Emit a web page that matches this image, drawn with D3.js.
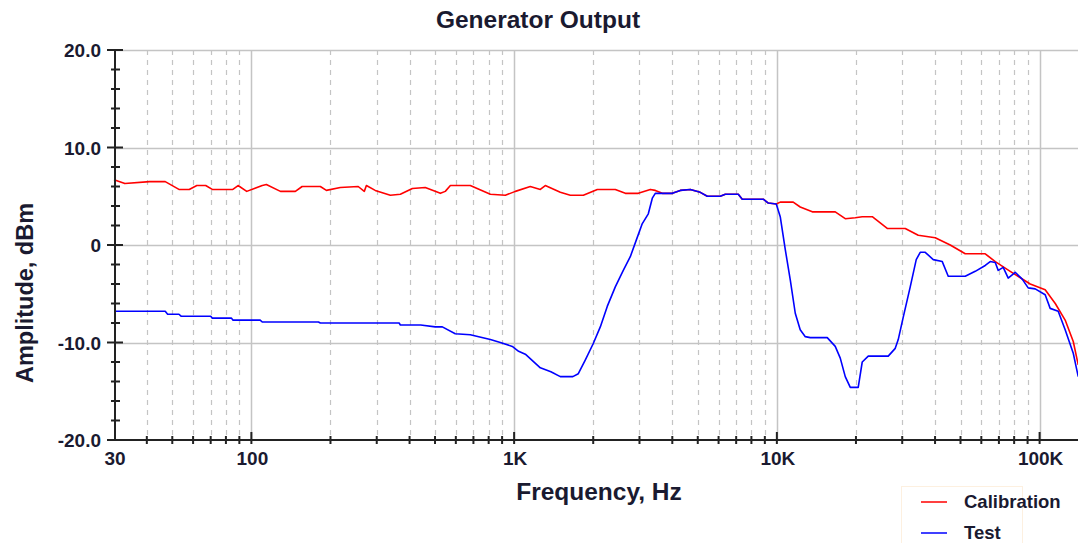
<!DOCTYPE html>
<html>
<head>
<meta charset="utf-8">
<script src="https://cdn.jsdelivr.net/npm/d3@7/dist/d3.min.js"></script>
<style>
  body { margin: 0; background: #fff; }
  svg text { font-family: "Liberation Sans", Arial, sans-serif; font-weight: bold; fill: #1a1a30; }
</style>
</head>
<body>
<div id="chart"></div>
<script>
// frequency (Hz) / amplitude (dBm)
let calFreq = [30, 33, 41, 47, 53, 58, 62, 67, 71, 85, 89, 96, 110, 114, 129, 147, 156, 183, 193, 218,
    255, 269, 274, 296, 338, 369, 410, 459, 524, 547, 572, 681, 812, 926, 1011, 1152, 1258, 1314, 1499, 1636,
    1834, 2073, 2427, 2650, 2969, 3298, 3446, 3664, 4000, 4290, 4683, 5111, 5435, 6090, 6364, 7131, 7384, 8877,
    9276, 9948, 10300, 11540, 12270, 13640, 16680, 18210, 19880, 21130, 23070, 26310, 30800, 34520, 40070,
    45690, 52120, 62090, 67800, 77290, 92090, 105000, 114700, 125100, 134300, 140300];
let calAmp = [6.7, 6.3, 6.5, 6.5, 5.7, 5.7, 6.1, 6.1, 5.7, 5.7, 6.1, 5.5, 6.1, 6.2, 5.5, 5.5, 6.0, 6.0, 5.6, 5.9,
    6.0, 5.5, 6.1, 5.6, 5.1, 5.2, 5.8, 5.9, 5.3, 5.5, 6.1, 6.1, 5.2, 5.1, 5.5, 6.0, 5.7, 6.1, 5.4, 5.1,
    5.1, 5.7, 5.7, 5.3, 5.3, 5.7, 5.6, 5.3, 5.3, 5.6, 5.7, 5.4, 5.0, 5.0, 5.2, 5.2, 4.7, 4.7,
    4.3, 4.2, 4.4, 4.4, 3.9, 3.4, 3.4, 2.7, 2.8, 2.9, 2.9, 1.7, 1.7, 1.0, 0.75,
    0, -0.9, -0.9, -1.7, -2.7, -4.0, -4.6, -6.0, -7.7, -9.9, -12.3];

let testFreq = [30, 47, 48, 53, 54, 70, 71, 84, 85, 108, 110, 180, 183, 365, 369, 441, 501, 533, 597, 681,
    812, 886, 984, 1040, 1103, 1258, 1380, 1499, 1673, 1755, 1865, 2001, 2128, 2262, 2427, 2603, 2768, 2917,
    3075, 3241, 3357, 3446, 4000, 4290, 4683, 5111, 5435, 6090, 6364, 7131, 7384, 8877, 9276, 9948, 10300,
    10770, 11250, 11750, 12270, 12830, 13400, 15550, 16680, 17430, 18210, 19030, 20400, 21130, 22280, 26540,
    28220, 28970, 30270, 32180, 33920, 35130, 36700, 39380, 42610, 44900, 52120, 56880, 62090, 64860, 67800,
    69570, 72690, 75950, 80770, 85860, 90490, 96220, 105000, 109700, 117700, 125100, 134300, 140300];
let testAmp = [-6.8, -6.8, -7.1, -7.1, -7.3, -7.3, -7.5, -7.5, -7.7, -7.7, -7.9, -7.9, -8.0, -8.0, -8.2, -8.2, -8.4, -8.4, -9.1, -9.2,
    -9.7, -10.0, -10.4, -10.9, -11.2, -12.6, -13.0, -13.5, -13.5, -13.2, -11.8, -10.1, -8.4, -6.3, -4.3, -2.6, -1.2, 0.5,
    2.2, 3.2, 4.8, 5.3, 5.3, 5.6, 5.7, 5.4, 5.0, 5.0, 5.2, 5.2, 4.7, 4.7, 4.3, 4.2, 2.9,
    -0.5, -3.6, -7.0, -8.7, -9.4, -9.5, -9.5, -10.4, -11.6, -13.5, -14.6, -14.6, -12.0, -11.4, -11.4,
    -10.6, -9.7, -7.4, -4.3, -1.5, -0.75, -0.75, -1.5, -1.7, -3.2, -3.2, -2.7, -2.1, -1.7, -1.8,
    -2.6, -2.3, -3.4, -2.8, -3.5, -4.4, -4.5, -5.1, -6.5, -6.8, -8.7, -11.1, -13.5];

let seriesNames = ['Calibration', 'Test'];
let seriesColors = ['#ff0000', '#0000ff'];

let decadeTicks = [30, 100, 1000, 10000, 100000];
let decadeLabels = ['30', '100', '1K', '10K', '100K'];
let ampTicks = [20, 10, 0, -10, -20];
let ampLabels = ['20.0', '10.0', '0', '-10.0', '-20.0'];

let W = 1078, H = 543;
let svg = d3.select('#chart').append('svg').attr('width', W).attr('height', H);

let x = d3.scaleLog().domain([30, 140000]).range([114, 1078]);
let y = d3.scaleLinear().domain([-20, 20]).range([440, 50]);

// minor frequencies (2..9 times each decade) inside the domain
let minorFreq = [];
[10, 100, 1000, 10000, 100000].forEach(d => {
    for (let k = 2; k <= 9; k++) {
        let f = d * k;
        if (f > 30 && f < 140000) minorFreq.push(f);
    }
});

let grid = svg.append('g');
grid.selectAll('line.minor').data(minorFreq).enter().append('line')
    .attr('x1', d => Math.round(x(d)) + 0.5).attr('x2', d => Math.round(x(d)) + 0.5)
    .attr('y1', 50).attr('y2', 440)
    .attr('stroke', '#c4c4c4').attr('stroke-width', 1.2).attr('stroke-dasharray', '5,5');
grid.selectAll('line.major').data(decadeTicks.slice(1)).enter().append('line')
    .attr('x1', d => Math.round(x(d)) + 0.5).attr('x2', d => Math.round(x(d)) + 0.5)
    .attr('y1', 50).attr('y2', 440)
    .attr('stroke', '#c4c4c4').attr('stroke-width', 1.5);
grid.selectAll('line.h').data(ampTicks.slice(0, 4)).enter().append('line')
    .attr('x1', 115).attr('x2', W)
    .attr('y1', d => Math.round(y(d)) + 0.5).attr('y2', d => Math.round(y(d)) + 0.5)
    .attr('stroke', '#c4c4c4').attr('stroke-width', 1.5);

// curves
let plot = svg.append('g');
let line = d3.line().x(d => x(d[0])).y(d => y(d[1]));
let calData = calFreq.map((f, i) => [f, calAmp[i]]);
let testData = testFreq.map((f, i) => [f, testAmp[i]]);
[calData, testData].forEach((data, i) => {
    plot.append('path').datum(data)
        .attr('d', line)
        .attr('fill', 'none')
        .attr('stroke', seriesColors[i])
        .attr('stroke-width', 1.6)
        .attr('stroke-linejoin', 'round');
});

// axes
let axes = svg.append('g').attr('stroke', '#222');
axes.append('line').attr('x1', 115).attr('x2', 115).attr('y1', 50).attr('y2', 441).attr('stroke-width', 2);
axes.append('line').attr('x1', 107).attr('x2', W).attr('y1', 440).attr('y2', 440).attr('stroke-width', 2);

let minorAmp = d3.range(-18, 20, 2).filter(v => ampTicks.indexOf(v) < 0);
axes.selectAll('line.ymin').data(minorAmp).enter().append('line')
    .attr('x1', 111).attr('x2', 120).attr('y1', d => y(d)).attr('y2', d => y(d)).attr('stroke-width', 2);
axes.selectAll('line.ymaj').data(ampTicks).enter().append('line')
    .attr('x1', 107).attr('x2', 123).attr('y1', d => y(d)).attr('y2', d => y(d)).attr('stroke-width', 2);
axes.selectAll('line.xmin').data(minorFreq).enter().append('line')
    .attr('x1', d => x(d)).attr('x2', d => x(d)).attr('y1', 436).attr('y2', 444).attr('stroke-width', 2);
axes.selectAll('line.xmaj').data(decadeTicks.slice(1)).enter().append('line')
    .attr('x1', d => x(d)).attr('x2', d => x(d)).attr('y1', 432).attr('y2', 444).attr('stroke-width', 2);

// tick labels
svg.selectAll('text.yl').data(ampTicks).enter().append('text')
    .attr('x', 101).attr('y', d => y(d) + 7)
    .attr('text-anchor', 'end').style('font-size', '19px')
    .text((d, i) => ampLabels[i]);
svg.selectAll('text.xl').data(decadeTicks).enter().append('text')
    .attr('x', d => x(d) + 1).attr('y', 465)
    .attr('text-anchor', 'middle').style('font-size', '19px')
    .text((d, i) => decadeLabels[i]);

// titles
svg.append('text').attr('x', 538).attr('y', 28).attr('text-anchor', 'middle')
    .style('font-size', '24.5px').text('Generator Output');
svg.append('text').attr('x', 599).attr('y', 500).attr('text-anchor', 'middle')
    .style('font-size', '24.5px').text('Frequency, Hz');
svg.append('text').attr('transform', 'translate(33,293) rotate(-90)').attr('text-anchor', 'middle')
    .style('font-size', '23.5px').text('Amplitude, dBm');

// legend
let lg = svg.append('g');
lg.append('rect').attr('x', 901.5).attr('y', 486.5).attr('width', 121).attr('height', 70)
    .attr('fill', '#fff').attr('stroke', '#fdf0e0');
seriesNames.forEach((name, i) => {
    let ly = 502 + i * 31;
    lg.append('line').attr('x1', 921).attr('x2', 947).attr('y1', ly).attr('y2', ly)
        .attr('stroke', seriesColors[i]).attr('stroke-width', 1.5);
    lg.append('text').attr('x', 964).attr('y', ly + 6).style('font-size', '18.5px').text(name);
});
</script>
</body>
</html>
